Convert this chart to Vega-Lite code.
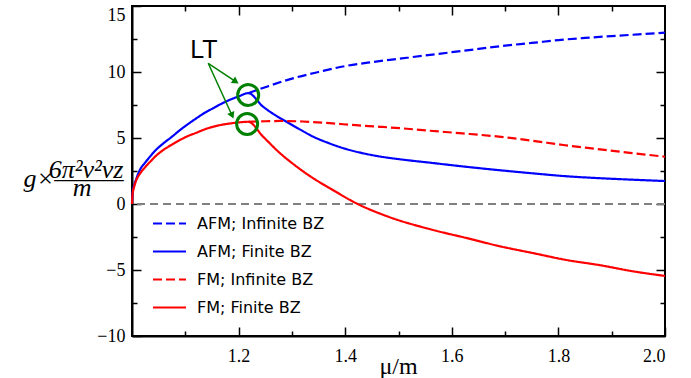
{
"$schema": "https://vega.github.io/schema/vega-lite/v6.json",
"width": 533, "height": 330,
"autosize": {"type": "none"},
"padding": {"left": 132, "top": 6, "right": 26, "bottom": 42},
"background": "white",
"config": {"view": {"stroke": "black", "strokeWidth": 2}},
"datasets": {
"curves": [
{"mu":1.0,"g":0,"s":"AFM; Finite BZ"},{"mu":1.001,"g":0.8,"s":"AFM; Finite BZ"},{"mu":1.004,"g":1.4,"s":"AFM; Finite BZ"},{"mu":1.008,"g":1.9,"s":"AFM; Finite BZ"},{"mu":1.015,"g":2.6,"s":"AFM; Finite BZ"},{"mu":1.025,"g":3.15,"s":"AFM; Finite BZ"},{"mu":1.034,"g":3.6,"s":"AFM; Finite BZ"},{"mu":1.045,"g":4.1,"s":"AFM; Finite BZ"},{"mu":1.059,"g":4.6,"s":"AFM; Finite BZ"},{"mu":1.075,"g":5.1,"s":"AFM; Finite BZ"},{"mu":1.09,"g":5.6,"s":"AFM; Finite BZ"},{"mu":1.105,"g":6.05,"s":"AFM; Finite BZ"},{"mu":1.121,"g":6.5,"s":"AFM; Finite BZ"},{"mu":1.136,"g":6.9,"s":"AFM; Finite BZ"},{"mu":1.152,"g":7.25,"s":"AFM; Finite BZ"},{"mu":1.168,"g":7.6,"s":"AFM; Finite BZ"},{"mu":1.184,"g":7.9,"s":"AFM; Finite BZ"},{"mu":1.2,"g":8.15,"s":"AFM; Finite BZ"},{"mu":1.218,"g":8.4,"s":"AFM; Finite BZ"},
{"mu":1.246,"g":7.37,"s":"AFM; Finite BZ"},{"mu":1.27,"g":6.7,"s":"AFM; Finite BZ"},{"mu":1.29,"g":6.23,"s":"AFM; Finite BZ"},{"mu":1.315,"g":5.65,"s":"AFM; Finite BZ"},{"mu":1.34,"g":5.1,"s":"AFM; Finite BZ"},{"mu":1.37,"g":4.6,"s":"AFM; Finite BZ"},{"mu":1.403,"g":4.15,"s":"AFM; Finite BZ"},{"mu":1.435,"g":3.83,"s":"AFM; Finite BZ"},{"mu":1.465,"g":3.6,"s":"AFM; Finite BZ"},{"mu":1.5,"g":3.4,"s":"AFM; Finite BZ"},{"mu":1.559,"g":3.13,"s":"AFM; Finite BZ"},{"mu":1.62,"g":2.85,"s":"AFM; Finite BZ"},{"mu":1.684,"g":2.58,"s":"AFM; Finite BZ"},{"mu":1.75,"g":2.33,"s":"AFM; Finite BZ"},{"mu":1.809,"g":2.12,"s":"AFM; Finite BZ"},{"mu":1.87,"g":1.97,"s":"AFM; Finite BZ"},{"mu":1.934,"g":1.85,"s":"AFM; Finite BZ"},{"mu":2.0,"g":1.74,"s":"AFM; Finite BZ"},
{"mu":1.218,"g":8.4,"s":"AFM; Infinite BZ"},{"mu":1.25,"g":8.85,"s":"AFM; Infinite BZ"},{"mu":1.3,"g":9.5,"s":"AFM; Infinite BZ"},{"mu":1.35,"g":10.0,"s":"AFM; Infinite BZ"},{"mu":1.4,"g":10.45,"s":"AFM; Infinite BZ"},{"mu":1.45,"g":10.75,"s":"AFM; Infinite BZ"},{"mu":1.5,"g":11.0,"s":"AFM; Infinite BZ"},{"mu":1.55,"g":11.25,"s":"AFM; Infinite BZ"},{"mu":1.6,"g":11.5,"s":"AFM; Infinite BZ"},{"mu":1.65,"g":11.75,"s":"AFM; Infinite BZ"},{"mu":1.7,"g":12.0,"s":"AFM; Infinite BZ"},{"mu":1.75,"g":12.2,"s":"AFM; Infinite BZ"},{"mu":1.8,"g":12.42,"s":"AFM; Infinite BZ"},{"mu":1.85,"g":12.58,"s":"AFM; Infinite BZ"},{"mu":1.9,"g":12.72,"s":"AFM; Infinite BZ"},{"mu":1.95,"g":12.85,"s":"AFM; Infinite BZ"},{"mu":2.0,"g":12.98,"s":"AFM; Infinite BZ"},
{"mu":1.218,"g":6.23,"s":"FM; Infinite BZ"},{"mu":1.25,"g":6.27,"s":"FM; Infinite BZ"},{"mu":1.278,"g":6.29,"s":"FM; Infinite BZ"},{"mu":1.32,"g":6.25,"s":"FM; Infinite BZ"},{"mu":1.371,"g":6.12,"s":"FM; Infinite BZ"},{"mu":1.42,"g":5.97,"s":"FM; Infinite BZ"},{"mu":1.465,"g":5.85,"s":"FM; Infinite BZ"},{"mu":1.51,"g":5.72,"s":"FM; Infinite BZ"},{"mu":1.559,"g":5.55,"s":"FM; Infinite BZ"},{"mu":1.62,"g":5.35,"s":"FM; Infinite BZ"},{"mu":1.684,"g":5.12,"s":"FM; Infinite BZ"},{"mu":1.75,"g":4.8,"s":"FM; Infinite BZ"},{"mu":1.809,"g":4.47,"s":"FM; Infinite BZ"},{"mu":1.87,"g":4.18,"s":"FM; Infinite BZ"},{"mu":1.934,"g":3.88,"s":"FM; Infinite BZ"},{"mu":2.0,"g":3.58,"s":"FM; Infinite BZ"},
{"mu":1.0,"g":0,"s":"FM; Finite BZ"},{"mu":1.001,"g":0.7,"s":"FM; Finite BZ"},{"mu":1.004,"g":1.3,"s":"FM; Finite BZ"},{"mu":1.008,"g":1.8,"s":"FM; Finite BZ"},{"mu":1.015,"g":2.3,"s":"FM; Finite BZ"},{"mu":1.025,"g":2.8,"s":"FM; Finite BZ"},{"mu":1.034,"g":3.2,"s":"FM; Finite BZ"},{"mu":1.045,"g":3.65,"s":"FM; Finite BZ"},{"mu":1.059,"g":4.1,"s":"FM; Finite BZ"},{"mu":1.075,"g":4.5,"s":"FM; Finite BZ"},{"mu":1.09,"g":4.85,"s":"FM; Finite BZ"},{"mu":1.105,"g":5.15,"s":"FM; Finite BZ"},{"mu":1.121,"g":5.4,"s":"FM; Finite BZ"},{"mu":1.136,"g":5.65,"s":"FM; Finite BZ"},{"mu":1.152,"g":5.85,"s":"FM; Finite BZ"},{"mu":1.168,"g":6.0,"s":"FM; Finite BZ"},{"mu":1.184,"g":6.1,"s":"FM; Finite BZ"},{"mu":1.2,"g":6.18,"s":"FM; Finite BZ"},{"mu":1.218,"g":6.23,"s":"FM; Finite BZ"},
{"mu":1.246,"g":5.1,"s":"FM; Finite BZ"},{"mu":1.278,"g":3.84,"s":"FM; Finite BZ"},{"mu":1.309,"g":2.83,"s":"FM; Finite BZ"},{"mu":1.34,"g":1.95,"s":"FM; Finite BZ"},{"mu":1.371,"g":1.2,"s":"FM; Finite BZ"},{"mu":1.421,"g":0.05,"s":"FM; Finite BZ"},{"mu":1.48,"g":-0.95,"s":"FM; Finite BZ"},{"mu":1.565,"g":-1.97,"s":"FM; Finite BZ"},{"mu":1.63,"g":-2.6,"s":"FM; Finite BZ"},{"mu":1.69,"g":-3.2,"s":"FM; Finite BZ"},{"mu":1.75,"g":-3.7,"s":"FM; Finite BZ"},{"mu":1.815,"g":-4.24,"s":"FM; Finite BZ"},{"mu":1.88,"g":-4.65,"s":"FM; Finite BZ"},{"mu":1.94,"g":-5.1,"s":"FM; Finite BZ"},{"mu":2.0,"g":-5.45,"s":"FM; Finite BZ"}
],
"zero": [{"g": 0}],
"circles": [{"mu":1.218,"g":8.26},{"mu":1.216,"g":6.06}],
"arrows": [{"mu":1.143,"g":10.66,"mu2":1.1947,"g2":9.27},{"mu":1.143,"g":10.66,"mu2":1.1878,"g2":6.70}],
"head1": [{"mu":1.1947,"g":9.27}],
"head2": [{"mu":1.1878,"g":6.70}],
"label": [{"mu":1.135,"g":11.7,"t":"LT"}]
},
"layer": [
{"data": {"name": "zero"},
 "mark": {"type": "rule", "color": "#808080", "strokeWidth": 2, "strokeDash": [8, 5]},
 "encoding": {"y": {"field": "g", "type": "quantitative", "axis": null}}},
{"data": {"name": "curves"},
 "mark": {"type": "line", "strokeWidth": 2.2, "interpolate": "monotone"},
 "encoding": {
  "x": {"field": "mu", "type": "quantitative", "scale": {"domain": [1, 2], "nice": false, "zero": false},
   "axis": {"values": [1.2,1.4,1.6,1.8,2.0], "format": ".1f",
    "tickSize": -9,
    "labelPadding": 20, "labelFont": "Liberation Serif", "labelFontSize": 18, "labelColor": "black", "labelOverlap": false,
    "domainColor": "black", "domainWidth": 2, "tickColor": "black", "tickWidth": 1.5, "grid": false,
    "title": "μ/m", "titleFont": "Liberation Serif", "titleFontSize": 24, "titleFontWeight": "normal", "titleColor": "black",
    "titleX": 266, "titleY": 37, "titleBaseline": "alphabetic", "titleAlign": "center"}},
  "y": {"field": "g", "type": "quantitative", "scale": {"domain": [-10, 15], "nice": false, "zero": false},
   "axis": {"values": [-10,-5,0,5,10,15],
    "tickSize": -9,
    "labelBaseline": {"condition": {"test": "datum.value==15", "value": "top"}, "value": "middle"},
    "labelPadding": 16, "labelFont": "Liberation Serif", "labelFontSize": 18, "labelColor": "black", "labelOverlap": false, "labelFlush": false,
    "domainColor": "black", "domainWidth": 2, "tickColor": "black", "tickWidth": 1.5, "grid": false,
    "title": ["6π²ν²νz", "g×———", "m\u00a0\u00a0⠀"],
    "titleAngle": 0, "titleAlign": "right", "titleBaseline": "middle", "titleX": -9, "titleY": 163, "titleLineHeight": 9,
    "titleFont": "Liberation Serif", "titleFontSize": 26, "titleFontStyle": "italic", "titleFontWeight": "normal", "titleColor": "black"}},
  "color": {"field": "s", "type": "nominal",
   "scale": {"domain": ["AFM; Infinite BZ", "AFM; Finite BZ", "FM; Infinite BZ", "FM; Finite BZ"], "range": ["#0000ff", "#0000ff", "#ff0000", "#ff0000"]},
   "legend": {"orient": "none", "legendX": 20, "legendY": 200, "title": null, "padding": 0, "symbolType": "stroke", "symbolStrokeWidth": 2, "symbolSize": 1089, "labelFont": "DejaVu Sans", "labelFontSize": 16, "labelColor": "black", "labelOffset": 10, "rowPadding": 2,
    "encode": {"symbols": {"update": {"strokeDash": {"signal": "test(/Infinite/, datum.value) ? [6, 3] : [1, 0]"}}}}}},
  "strokeDash": {"field": "s", "type": "nominal",
   "scale": {"domain": ["AFM; Infinite BZ", "AFM; Finite BZ", "FM; Infinite BZ", "FM; Finite BZ"], "range": [[9, 4], [1, 0], [9, 4], [1, 0]]},
   "legend": {"orient": "none", "legendX": 20, "legendY": 200, "title": null, "padding": 0, "symbolType": "stroke", "symbolStrokeWidth": 2, "symbolSize": 1089, "labelFont": "DejaVu Sans", "labelFontSize": 16, "labelColor": "black", "labelOffset": 10, "rowPadding": 2,
    "encode": {"symbols": {"update": {"strokeDash": {"signal": "test(/Infinite/, datum.value) ? [6, 3] : [1, 0]"}}}}}}
 }},
{"data": {"name": "label"},
 "mark": {"type": "point", "opacity": 0},
 "encoding": {
  "x": {"field": "mu", "type": "quantitative", "axis": {"orient": "bottom", "values": [1.1,1.3,1.5,1.7,1.9], "labels": false, "title": null, "domain": false, "grid": false, "tickSize": -5, "tickColor": "black", "tickWidth": 1.5}},
  "y": {"field": "g", "type": "quantitative", "axis": {"orient": "left", "values": [-7.5,-2.5,2.5,7.5,12.5], "labels": false, "title": null, "domain": false, "grid": false, "tickSize": -5, "tickColor": "black", "tickWidth": 1.5}}
 }},
{"data": {"name": "label"},
 "mark": {"type": "point", "opacity": 0},
 "encoding": {
  "x": {"field": "mu", "type": "quantitative", "axis": {"orient": "top", "values": [1.2,1.4,1.6,1.8], "labels": false, "title": null, "domain": false, "grid": false, "tickSize": -9, "tickColor": "black", "tickWidth": 1.5}},
  "y": {"field": "g", "type": "quantitative", "axis": {"orient": "right", "values": [-5,0,5,10], "labels": false, "title": null, "domain": false, "grid": false, "tickSize": -9, "tickColor": "black", "tickWidth": 1.5}}
 }},
{"data": {"name": "label"},
 "mark": {"type": "point", "opacity": 0},
 "encoding": {
  "x": {"field": "mu", "type": "quantitative", "axis": {"orient": "top", "values": [1.1,1.3,1.5,1.7,1.9], "labels": false, "title": null, "domain": false, "grid": false, "tickSize": -5, "tickColor": "black", "tickWidth": 1.5}},
  "y": {"field": "g", "type": "quantitative", "axis": {"orient": "right", "values": [-7.5,-2.5,2.5,7.5,12.5], "labels": false, "title": null, "domain": false, "grid": false, "tickSize": -5, "tickColor": "black", "tickWidth": 1.5}}
 }},
{"data": {"name": "circles"},
 "mark": {"type": "point", "shape": "circle", "filled": false, "stroke": "#008000", "strokeWidth": 3, "size": 441, "opacity": 1},
 "encoding": {"x": {"field": "mu", "type": "quantitative", "axis": null}, "y": {"field": "g", "type": "quantitative", "axis": null}}},
{"data": {"name": "arrows"},
 "mark": {"type": "rule", "color": "#008000", "strokeWidth": 1.5},
 "encoding": {"x": {"field": "mu", "type": "quantitative", "axis": null}, "y": {"field": "g", "type": "quantitative", "axis": null},
  "x2": {"field": "mu2"}, "y2": {"field": "g2"}}},
{"data": {"name": "head1"},
 "mark": {"type": "point", "shape": "triangle-right", "filled": true, "color": "#008000", "opacity": 1, "size": 60, "angle": 34},
 "encoding": {"x": {"field": "mu", "type": "quantitative", "axis": null}, "y": {"field": "g", "type": "quantitative", "axis": null}}},
{"data": {"name": "head2"},
 "mark": {"type": "point", "shape": "triangle-right", "filled": true, "color": "#008000", "opacity": 1, "size": 60, "angle": 66},
 "encoding": {"x": {"field": "mu", "type": "quantitative", "axis": null}, "y": {"field": "g", "type": "quantitative", "axis": null}}},
{"data": {"name": "label"},
 "mark": {"type": "text", "font": "Liberation Sans", "fontSize": 25, "color": "black", "align": "center", "baseline": "middle"},
 "encoding": {"x": {"field": "mu", "type": "quantitative", "axis": null}, "y": {"field": "g", "type": "quantitative", "axis": null}, "text": {"field": "t"}}}
],
"resolve": {"axis": {"x": "independent", "y": "independent"}}
}
